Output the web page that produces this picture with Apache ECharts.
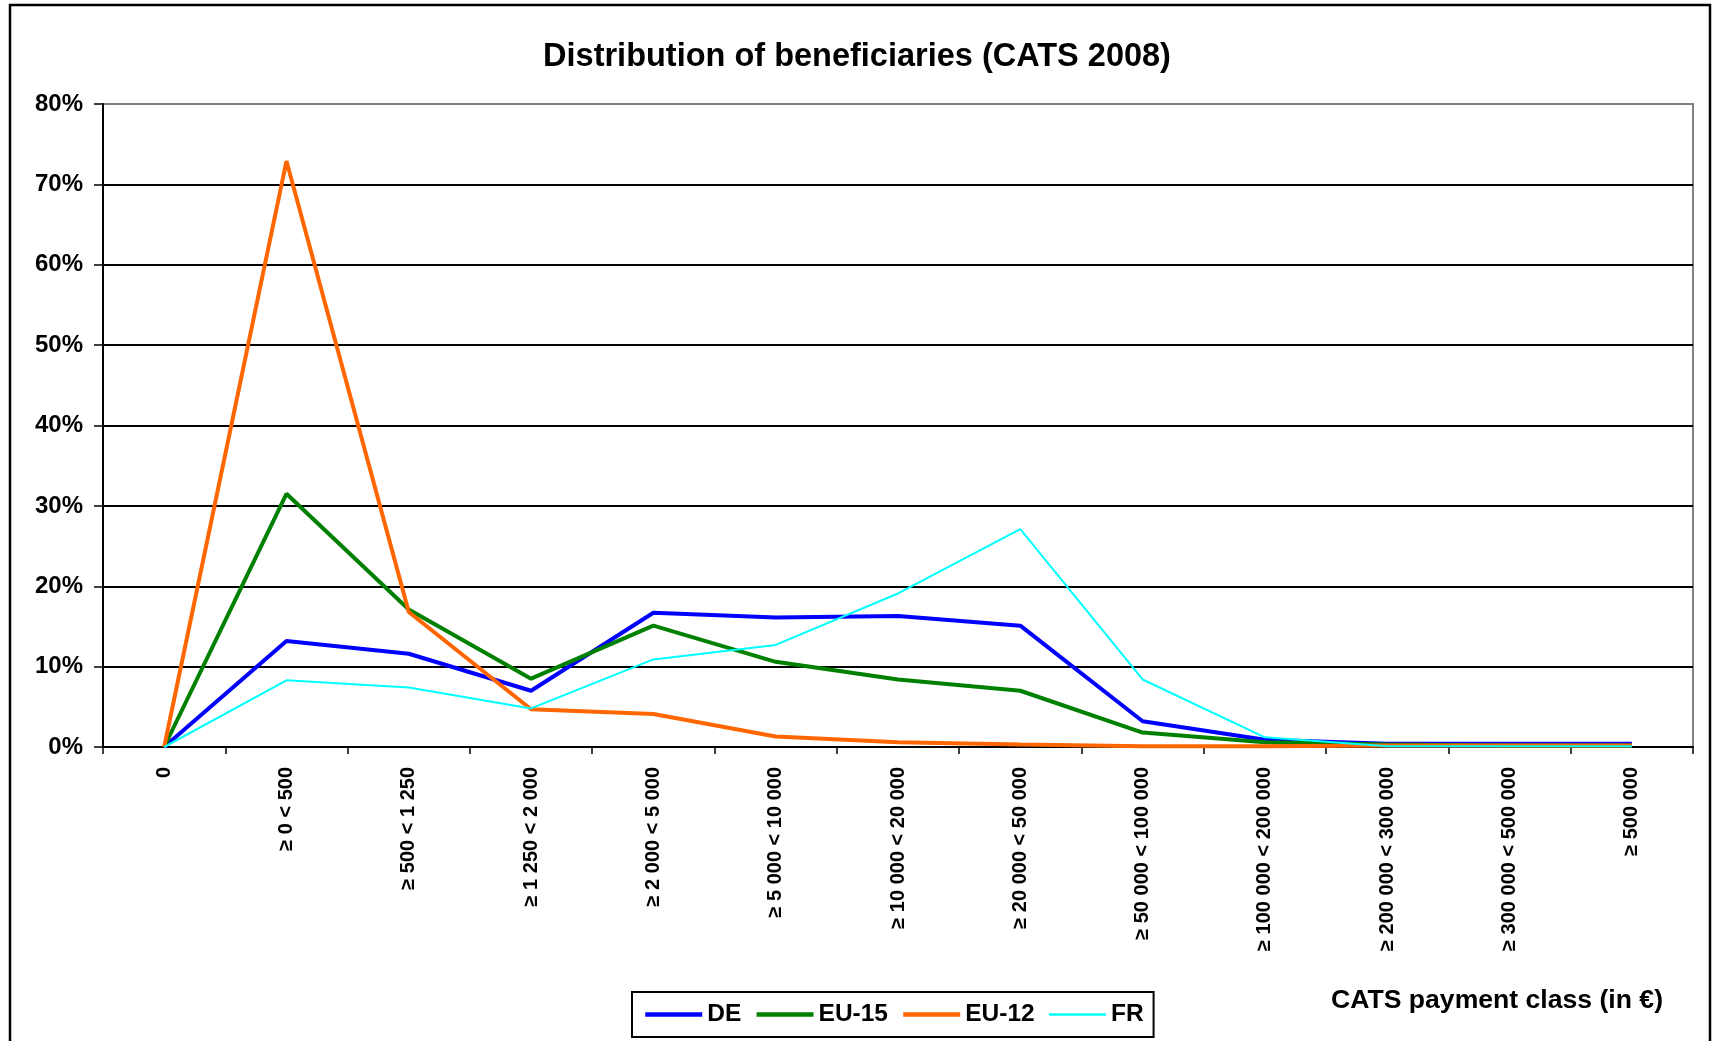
<!DOCTYPE html>
<html>
<head>
<meta charset="utf-8">
<script src="https://cdn.jsdelivr.net/npm/echarts@6/dist/echarts.min.js"></script>
<style>
  html, body { margin: 0; padding: 0; background: #fff; }
  #chart { width: 1714px; height: 1041px; }
</style>
</head>
<body>
<div id="chart"></div>
<script>
// payment classes (x axis)
const categories = [
  '0', '≥ 0 < 500', '≥ 500 < 1 250', '≥ 1 250 < 2 000', '≥ 2 000 < 5 000',
  '≥ 5 000 < 10 000', '≥ 10 000 < 20 000', '≥ 20 000 < 50 000',
  '≥ 50 000 < 100 000', '≥ 100 000 < 200 000', '≥ 200 000 < 300 000',
  '≥ 300 000 < 500 000', '≥ 500 000'
]

// share of beneficiaries, in %
const deValues   = [0, 13.2, 11.6, 7.0, 16.7, 16.1, 16.3, 15.1, 3.2, 0.9, 0.4, 0.4, 0.4]
const eu15Values = [0, 31.5, 17.1, 8.5, 15.1, 10.6, 8.4, 7.0, 1.8, 0.6, 0.3, 0.2, 0.2]
const eu12Values = [0, 72.9, 16.8, 4.7, 4.1, 1.3, 0.6, 0.3, 0.1, 0.1, 0.2, 0.2, 0.2]
const frValues   = [0, 8.3, 7.4, 4.8, 10.9, 12.7, 19.1, 27.1, 8.4, 1.2, 0.1, 0.1, 0.1]

const yTicks = [0, 10, 20, 30, 40, 50, 60, 70, 80]

const FONT = 'Liberation Sans, Arial, sans-serif'

const chart = echarts.init(document.getElementById('chart'))

function lineSeries (name, data, color, width, z) {
  return {
    name,
    type: 'line',
    data,
    symbol: 'none',
    z,
    lineStyle: { color, width },
    itemStyle: { color }
  }
}

chart.setOption({
  backgroundColor: '#ffffff',
  animation: false,
  title: [
    {
      text: 'Distribution of beneficiaries (CATS 2008)',
      left: 'center',
      top: 36,
      textStyle: { fontFamily: FONT, fontWeight: 'bold', fontSize: 32.5, color: '#000' }
    },
    {
      text: 'CATS payment class (in €)',
      left: 1326,
      top: 982,
      textStyle: { fontFamily: FONT, fontWeight: 'bold', fontSize: 26.6, color: '#000' }
    }
  ],
  legend: {
    left: 632,
    top: 992,
    orient: 'horizontal',
    padding: [10, 10, 10, 11],
    itemGap: 13,
    itemWidth: 57,
    itemHeight: 14,
    borderColor: '#000',
    borderWidth: 2,
    itemStyle: { opacity: 0 },
    textStyle: { fontFamily: FONT, fontWeight: 'bold', fontSize: 24.5, color: '#000' },
    data: [
      { name: 'DE', lineStyle: { width: 4.5 } },
      { name: 'EU-15', lineStyle: { width: 4.5 } },
      { name: 'EU-12', lineStyle: { width: 4.5 } },
      { name: 'FR', lineStyle: { width: 2.5 } }
    ]
  },
  graphic: [
    {
      type: 'rect',
      shape: { x: 10, y: 5, width: 1700, height: 1100 },
      style: { fill: null, stroke: '#000', lineWidth: 2.5 },
      silent: true
    }
  ],
  grid: {
    left: 103,
    right: 21,
    top: 104,
    bottom: 294,
    show: true,
    borderColor: '#808080',
    borderWidth: 2
  },
  xAxis: {
    type: 'category',
    data: categories,
    boundaryGap: true,
    axisLine: { lineStyle: { color: '#000', width: 2 } },
    axisTick: { show: true, length: 7, lineStyle: { color: '#000', width: 1.5 } },
    axisLabel: {
      rotate: 90,
      margin: 20,
      interval: 0,
      fontFamily: FONT,
      fontWeight: 'bold',
      fontSize: 20,
      color: '#000'
    }
  },
  yAxis: {
    type: 'value',
    min: yTicks[0],
    max: yTicks[yTicks.length - 1],
    interval: 10,
    axisLine: { show: true, lineStyle: { color: '#000', width: 2 } },
    axisTick: { show: true, length: 9, lineStyle: { color: '#000', width: 1.5 } },
    axisLabel: {
      margin: 20,
      formatter: '{value}%',
      fontFamily: FONT,
      fontWeight: 'bold',
      fontSize: 24,
      color: '#000'
    },
    splitLine: {
      show: true,
      lineStyle: {
        color: ['#000', '#000', '#000', '#000', '#000', '#000', '#000', '#000', '#808080'],
        width: 2
      }
    }
  },
  series: [
    lineSeries('DE', deValues, '#0000ff', 4, 2),
    lineSeries('EU-15', eu15Values, '#008000', 4, 3),
    lineSeries('EU-12', eu12Values, '#ff6600', 4, 4),
    lineSeries('FR', frValues, '#00ffff', 2, 5)
  ]
})
</script>
</body>
</html>
